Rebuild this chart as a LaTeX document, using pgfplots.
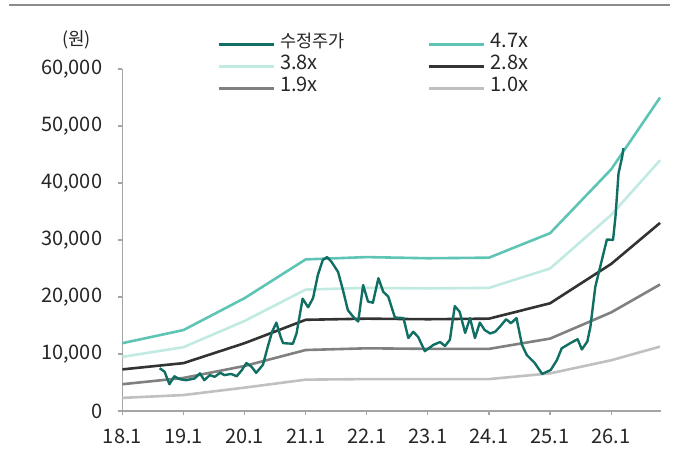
\documentclass[border=0pt]{standalone}
\usepackage{pgfplots}
\pgfplotsset{compat=1.18}
\usepackage{fontspec}
\setmainfont{Noto Sans CJK KR}

\definecolor{price}{RGB}{16,110,98}
\definecolor{bandA}{RGB}{94,196,180}
\definecolor{bandB}{RGB}{192,234,226}
\definecolor{bandC}{RGB}{51,51,51}
\definecolor{bandD}{RGB}{128,128,128}
\definecolor{bandE}{RGB}{192,192,192}
\definecolor{axisgray}{RGB}{165,165,165}
\definecolor{topline}{RGB}{140,140,140}

% band values in thousand won, x = years since 2018.1
\pgfplotstableread{
x     a     b     c     d     e
0     11.9  9.5   7.3   4.7   2.3
1     14.2  11.2  8.4   5.8   2.8
2     19.8  15.8  11.9  7.9   4.1
3     26.6  21.3  16.0  10.7  5.5
4     27.0  21.6  16.2  11.0  5.6
5     26.8  21.5  16.1  10.9  5.6
6     26.9  21.6  16.2  10.9  5.6
7     31.2  25.0  18.9  12.7  6.6
8     42.4  34.4  25.8  17.3  8.9
8.8   55.0  44.0  33.0  22.2  11.3
}\bands

\begin{document}
\begin{tikzpicture}
\useasboundingbox (-122.4bp,-43bp) rectangle (554.6bp,411bp);
\draw[line width=2.2bp, topline] (-113bp,406bp) -- (548bp,406bp);
\node[font=\fontsize{18bp}{20bp}\selectfont, text=black!85] at (-46bp,371bp) {(원)};
\begin{axis}[
    at={(0,0)}, anchor=south west,
    scale only axis, width=538.9bp, height=342bp,
    xmin=0, xmax=8.82, ymin=0, ymax=60,
    axis x line=bottom, axis y line=left,
    axis line style={-, draw=axisgray, line width=1.2bp},
    tick style={draw=axisgray, line width=1.2bp},
    tick align=outside, major tick length=4bp,
    xtick={0,1,2,3,4,5,6,7,8},
    xticklabels={18.1,19.1,20.1,21.1,22.1,23.1,24.1,25.1,26.1},
    ytick={0,10,20,30,40,50,60},
    yticklabels={0,{10,000},{20,000},{30,000},{40,000},{50,000},{60,000}},
    tick label style={font=\fontsize{20bp}{24bp}\selectfont, text=black!85},
    xticklabel style={anchor=base, inner sep=0pt, yshift=-28bp},
    yticklabel style={anchor=east, inner sep=0pt, xshift=-16bp},
    legend columns=2,
    legend image code/.code={\draw[#1, line width=2.6bp] (0bp,0bp) -- (55bp,0bp);},
    legend style={draw=none, fill=none, at={(0.176,1.105)}, anchor=north west,
        inner sep=0pt, row sep=0pt,
        font=\fontsize{20bp}{24bp}\selectfont,
        nodes={inner sep=0pt, text height=14bp, text depth=8bp, text=black!85},
        /tikz/every odd column/.append style={column sep=5bp}},
    legend cell align=left,
]
\addlegendimage{price}
\addlegendentry{\makebox[148bp][l]{\fontsize{17.5bp}{20bp}\selectfont 수정주가}}
\addlegendimage{bandA}
\addlegendentry{4.7x}
\addlegendimage{bandB}
\addlegendentry{\makebox[148bp][l]{3.8x}}
\addlegendimage{bandC}
\addlegendentry{2.8x}
\addlegendimage{bandD}
\addlegendentry{\makebox[148bp][l]{1.9x}}
\addlegendimage{bandE}
\addlegendentry{1.0x}

\addplot[bandE, line width=2.6bp, forget plot] table[x=x, y=e] {\bands};
\addplot[bandD, line width=2.6bp, forget plot] table[x=x, y=d] {\bands};
\addplot[bandC, line width=2.6bp, forget plot] table[x=x, y=c] {\bands};
\addplot[bandB, line width=2.6bp, forget plot] table[x=x, y=b] {\bands};
\addplot[bandA, line width=2.6bp, forget plot] table[x=x, y=a] {\bands};

\addplot[price, line width=2.4bp, line join=round, forget plot] coordinates {
(0.61,7.5)(0.69,6.9)(0.77,4.7)(0.85,6.1)(0.93,5.6)(1.04,5.4)(1.18,5.7)(1.27,6.6)
(1.34,5.4)(1.43,6.3)(1.51,6.0)(1.60,6.7)(1.67,6.3)(1.78,6.5)(1.87,6.1)(1.95,7.1)
(2.03,8.4)(2.11,7.8)(2.19,6.7)(2.30,8.1)(2.38,11.3)(2.45,13.9)(2.52,15.5)(2.59,13.0)
(2.63,11.9)(2.79,11.8)(2.85,13.6)(2.95,19.7)(3.04,18.2)(3.12,19.8)(3.20,23.9)(3.28,26.5)
(3.35,27.0)(3.42,26.2)(3.53,24.4)(3.61,21.2)(3.69,17.7)(3.78,16.5)(3.86,15.7)(3.94,22.1)
(4.02,19.2)(4.10,19.0)(4.19,23.3)(4.27,20.9)(4.35,20.1)(4.46,16.4)(4.60,16.3)(4.68,12.8)
(4.76,13.9)(4.84,13.0)(4.95,10.5)(5.09,11.6)(5.20,12.1)(5.28,11.4)(5.36,12.5)(5.44,18.4)
(5.52,17.4)(5.61,13.7)(5.69,16.3)(5.77,12.8)(5.85,15.5)(5.93,14.2)(6.02,13.6)(6.10,13.9)
(6.18,14.8)(6.28,16.1)(6.36,15.4)(6.45,16.3)(6.54,11.6)(6.62,9.8)(6.75,8.4)(6.87,6.5)
(7.01,7.2)(7.11,8.9)(7.19,11.0)(7.33,11.9)(7.45,12.6)(7.52,10.8)(7.61,12.2)(7.66,14.8)
(7.74,21.8)(7.82,25.3)(7.93,30.1)(8.03,30.0)(8.07,34.1)(8.12,41.7)(8.18,44.6)(8.20,46.1)
};
\end{axis}
\end{tikzpicture}
\end{document}
